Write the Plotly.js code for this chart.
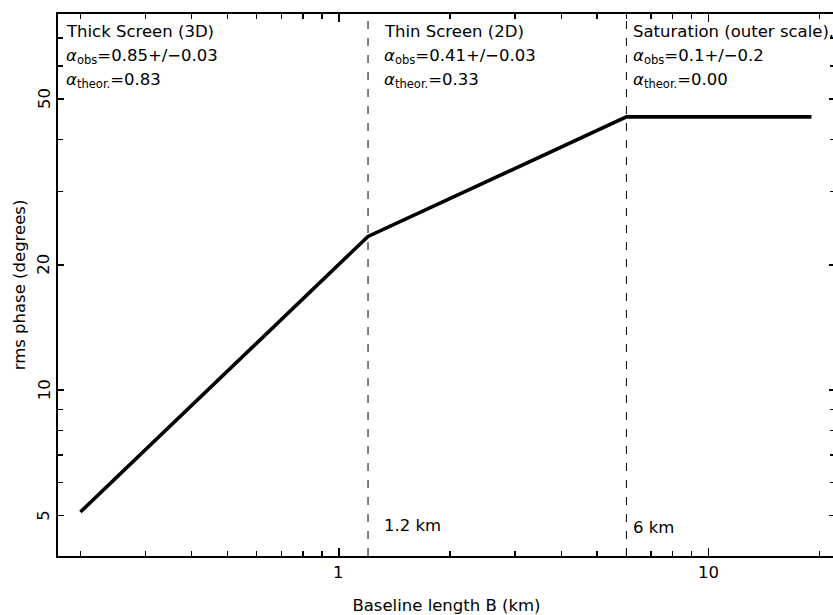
<!DOCTYPE html>
<html>
<head>
<meta charset="utf-8">
<script src="https://cdn.plot.ly/plotly-3.0.1.min.js"></script>
<style>
html,body{margin:0;padding:0;overflow:hidden;background:#fff;}
#chart{width:838px;height:615px;}
</style>
</head>
<body>
<div id="chart"></div>
<script>
// Broken power-law model of rms phase vs baseline
var baselineKm = [0.2, 1.2, 6, 19];
var rmsPhaseDeg = [5.1, 23.4, 45.3, 45.3];
var breakBaselines = [1.2, 6];
var breakLabels = ['1.2 km', '6 km'];
var regimeNames = ['Thick Screen (3D)', 'Thin Screen (2D)', 'Saturation (outer scale).'];
var alphaObs = ['0.85+/\u22120.03', '0.41+/\u22120.03', '0.1+/\u22120.2'];
var alphaTheor = ['0.83', '0.33', '0.00'];
var regimeStarts = [0.2, 1.2, 6];
var xRange = [0.174, 22];
var yRange = [4, 80];
var xTickVals = [1, 10];
var xTickText = ['1', '10'];
var xMinorVals = [0.2,0.3,0.4,0.5,0.6,0.7,0.8,0.9,2,3,4,5,6,7,8,9,20];
var yTickVals = [5, 10, 20, 50];
var yTickText = ['5', '10', '20', '50'];
var yMinorVals = [6,7,8,9,30,40,60,70];

var FONT = 'DejaVu Sans, sans-serif';
var FS = 16.5;
var traces = [];
breakBaselines.forEach(function(b){
  traces.push({x:[b,b], y:yRange, mode:'lines', hoverinfo:'skip',
    line:{color:'#000', width:1, dash:'8px,9px'}, showlegend:false});
});
traces.push({x:baselineKm, y:rmsPhaseDeg, mode:'lines',
  line:{color:'#000', width:3.6}, showlegend:false});

var annotations = [];
var textOffsets = [6, 14, 5];
regimeNames.forEach(function(name, i){
  var lines = [name,
    '<i>\u03b1</i><sub>obs</sub>=' + alphaObs[i],
    '<i>\u03b1</i><sub>theor.</sub>=' + alphaTheor[i]];
  var yp = [32, 56, 80];
  lines.forEach(function(t, j){
    annotations.push({x:Math.log10(i===0 ? xRange[0] : regimeStarts[i]), xref:'x',
      y:1 - (yp[j]-14)/542, yref:'paper', text:t, showarrow:false,
      xanchor:'left', yanchor:'middle', xshift:textOffsets[i],
      font:{family:FONT, size:FS, color:'#000'}});
  });
});
breakBaselines.forEach(function(b, i){
  annotations.push({x:Math.log10(b), xref:'x', y:Math.log10(yRange[0]), yref:'y',
    text:breakLabels[i], showarrow:false, xanchor:'left', yanchor:'middle',
    xshift:(i===0?14:5), yshift:(i===0?31:29),
    font:{family:FONT, size:FS, color:'#000'}});
});
// tick labels placed through the axis scales
xTickVals.forEach(function(v, i){
  annotations.push({x:Math.log10(v), xref:'x', y:0, yref:'paper', text:xTickText[i],
    showarrow:false, xanchor:'center', yanchor:'middle', yshift:-16,
    font:{family:FONT, size:FS, color:'#000'}});
});
yTickVals.forEach(function(v, i){
  annotations.push({x:0, xref:'paper', y:Math.log10(v), yref:'y', text:yTickText[i],
    showarrow:false, xanchor:'center', yanchor:'middle', xshift:-14, textangle:-90,
    font:{family:FONT, size:FS, color:'#000'}});
});

var axisCommon = {showgrid:false, zeroline:false, showline:true, linecolor:'#000',
  linewidth:2, mirror:'allticks', ticks:'inside', tickcolor:'#000', tickwidth:1.5,
  showticklabels:false, automargin:false};

var layout = {
  width:838, height:615,
  margin:{l:58, r:3, t:14, b:59},
  paper_bgcolor:'#fff', plot_bgcolor:'#fff',
  font:{family:FONT, size:FS, color:'#000'},
  xaxis:Object.assign({}, axisCommon, {
    type:'log', range:[Math.log10(xRange[0]), Math.log10(xRange[1])],
    tickmode:'array', tickvals:xTickVals, ticktext:xTickText, ticklen:8,
    minor:{tickmode:'array', tickvals:xMinorVals, ticklen:5, ticks:'inside', tickcolor:'#000', tickwidth:1.5, showgrid:false},
    title:{text:'Baseline length B (km)', font:{family:FONT, size:FS, color:'#000'}, standoff:42}
  }),
  yaxis:Object.assign({}, axisCommon, {
    type:'log', range:[Math.log10(yRange[0]), Math.log10(yRange[1])],
    tickmode:'array', tickvals:yTickVals, ticktext:yTickText, ticklen:6,
    minor:{tickmode:'array', tickvals:yMinorVals, ticklen:5, ticks:'inside', tickcolor:'#000', tickwidth:1.5, showgrid:false},
    title:{text:'rms phase (degrees)', font:{family:FONT, size:FS, color:'#000'}, standoff:26}
  }),
  annotations:annotations
};

Plotly.newPlot('chart', traces, layout, {displayModeBar:false, staticPlot:true});
</script>
</body>
</html>
